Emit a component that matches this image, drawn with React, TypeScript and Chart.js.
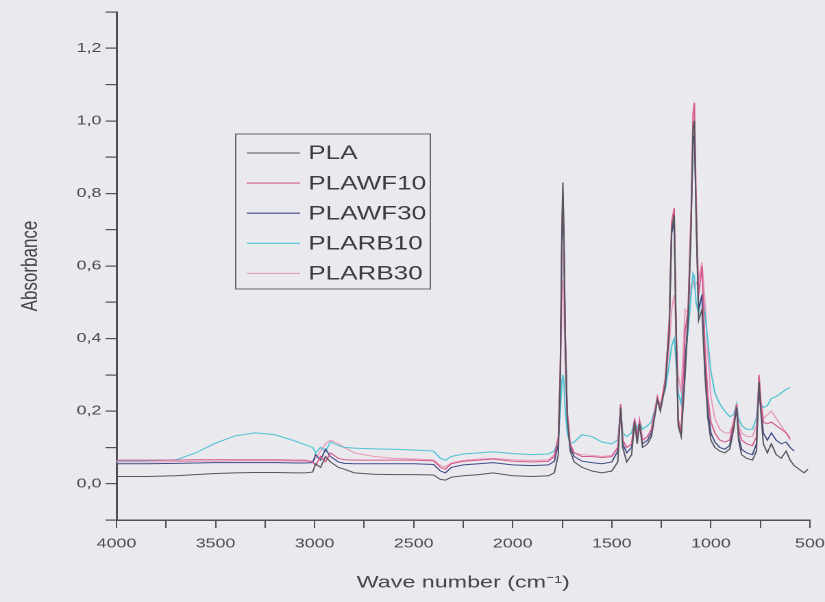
import React, { useEffect, useRef } from "react";
import { Chart, registerables } from "chart.js";

Chart.register(...registerables);

// Wave numbers (cm-1), shared by all series
const waveNumbers = [
  4000, 3850, 3700, 3600, 3500, 3400, 3300, 3200, 3100, 3050,
  3010, 2995, 2970, 2945, 2920, 2880, 2850, 2800, 2700, 2600,
  2500, 2400, 2365, 2340, 2310, 2250, 2170, 2100, 2000, 1900,
  1820, 1790, 1770, 1760, 1752, 1747, 1742, 1735, 1725, 1710,
  1690, 1650, 1600, 1550, 1500, 1470, 1455, 1445, 1425, 1400,
  1385, 1372, 1360, 1345, 1320, 1300, 1270, 1255, 1230, 1210,
  1198, 1185, 1175, 1165, 1150, 1130, 1115, 1100, 1090, 1083,
  1075, 1062, 1045, 1030, 1015, 1000, 980, 955, 930, 905,
  885, 870, 860, 845, 820, 790, 770, 757, 748, 735,
  715, 695, 670, 645, 620, 600, 580, 555, 530, 510,
];

const PLA = [
  0.020, 0.020, 0.022, 0.025, 0.028, 0.030, 0.031, 0.031, 0.030, 0.030,
  0.032, 0.055, 0.045, 0.075, 0.060, 0.045, 0.040, 0.030, 0.026, 0.025,
  0.025, 0.024, 0.012, 0.010, 0.018, 0.022, 0.025, 0.030, 0.022, 0.020,
  0.022, 0.030, 0.080, 0.300, 0.700, 0.830, 0.700, 0.400, 0.180, 0.090,
  0.060, 0.045, 0.035, 0.030, 0.035, 0.060, 0.210, 0.100, 0.060, 0.080,
  0.170, 0.110, 0.165, 0.100, 0.110, 0.130, 0.230, 0.200, 0.270, 0.420,
  0.700, 0.740, 0.400, 0.160, 0.130, 0.300, 0.450, 0.700, 0.980, 1.000,
  0.750, 0.450, 0.480, 0.300, 0.180, 0.120, 0.100, 0.090, 0.085, 0.095,
  0.150, 0.210, 0.120, 0.080, 0.070, 0.065, 0.090, 0.280, 0.200, 0.110,
  0.085, 0.110, 0.080, 0.070, 0.090, 0.065, 0.050, 0.040, 0.030, 0.040,
];

const PLAWF10 = [
  0.065, 0.065, 0.065, 0.066, 0.066, 0.066, 0.066, 0.066, 0.065, 0.065,
  0.060, 0.050, 0.075, 0.060, 0.085, 0.070, 0.066, 0.065, 0.065, 0.065,
  0.065, 0.063, 0.045, 0.040, 0.055, 0.062, 0.065, 0.068, 0.062, 0.060,
  0.062, 0.075, 0.130, 0.320, 0.680, 0.800, 0.690, 0.420, 0.200, 0.110,
  0.085, 0.075, 0.075, 0.072, 0.075, 0.100, 0.220, 0.120, 0.100, 0.110,
  0.180, 0.130, 0.175, 0.120, 0.130, 0.150, 0.240, 0.210, 0.290, 0.450,
  0.720, 0.760, 0.420, 0.180, 0.140, 0.420, 0.480, 0.750, 1.020, 1.050,
  0.800, 0.520, 0.600, 0.380, 0.240, 0.170, 0.140, 0.120, 0.115, 0.120,
  0.170, 0.220, 0.150, 0.120, 0.110, 0.105, 0.130, 0.300, 0.230, 0.170,
  0.165, 0.170, 0.160, 0.150, 0.140, 0.125, null, null, null, null,
];

const PLAWF30 = [
  0.055, 0.055, 0.056, 0.057, 0.058, 0.058, 0.058, 0.058, 0.057, 0.057,
  0.058, 0.080, 0.065, 0.095, 0.075, 0.060, 0.056, 0.055, 0.055, 0.055,
  0.055, 0.053, 0.035, 0.030, 0.045, 0.052, 0.055, 0.058, 0.052, 0.050,
  0.052, 0.062, 0.110, 0.300, 0.660, 0.780, 0.660, 0.400, 0.190, 0.100,
  0.075, 0.062, 0.058, 0.055, 0.060, 0.090, 0.215, 0.110, 0.085, 0.100,
  0.175, 0.120, 0.170, 0.110, 0.120, 0.140, 0.235, 0.205, 0.280, 0.440,
  0.690, 0.720, 0.400, 0.170, 0.135, 0.330, 0.460, 0.720, 0.940, 0.960,
  0.760, 0.480, 0.520, 0.330, 0.200, 0.140, 0.115, 0.100, 0.095, 0.105,
  0.160, 0.215, 0.130, 0.095, 0.085, 0.080, 0.110, 0.290, 0.210, 0.140,
  0.120, 0.140, 0.120, 0.110, 0.115, 0.100, 0.090, null, null, null,
];

const PLARB10 = [
  0.063, 0.063, 0.066, 0.085, 0.112, 0.132, 0.140, 0.135, 0.118, 0.108,
  0.100, 0.085, 0.100, 0.090, 0.115, 0.105, 0.100, 0.098, 0.096, 0.095,
  0.093, 0.090, 0.070, 0.065, 0.075, 0.082, 0.085, 0.088, 0.083, 0.080,
  0.082, 0.090, 0.120, 0.200, 0.280, 0.300, 0.280, 0.200, 0.140, 0.110,
  0.115, 0.135, 0.130, 0.115, 0.110, 0.120, 0.200, 0.140, 0.130, 0.140,
  0.175, 0.150, 0.170, 0.150, 0.160, 0.170, 0.230, 0.220, 0.260, 0.330,
  0.380, 0.400, 0.330, 0.250, 0.220, 0.350, 0.420, 0.520, 0.580, 0.570,
  0.500, 0.470, 0.520, 0.470, 0.390, 0.310, 0.250, 0.220, 0.200, 0.185,
  0.190, 0.220, 0.180, 0.160, 0.150, 0.150, 0.180, 0.270, 0.220, 0.210,
  0.215, 0.235, 0.240, 0.250, 0.260, 0.265, null, null, null, null,
];

const PLARB30 = [
  0.060, 0.060, 0.061, 0.062, 0.062, 0.063, 0.063, 0.063, 0.062, 0.062,
  0.062, 0.070, 0.090, 0.110, 0.120, 0.110, 0.100, 0.085, 0.075, 0.070,
  0.068, 0.066, 0.050, 0.046, 0.058, 0.064, 0.068, 0.070, 0.066, 0.064,
  0.066, 0.080, 0.120, 0.260, 0.500, 0.560, 0.500, 0.320, 0.170, 0.100,
  0.085, 0.080, 0.078, 0.075, 0.078, 0.100, 0.200, 0.120, 0.100, 0.110,
  0.165, 0.130, 0.160, 0.120, 0.130, 0.150, 0.230, 0.210, 0.270, 0.380,
  0.480, 0.520, 0.420, 0.300, 0.250, 0.480, 0.470, 0.550, 0.560, 0.540,
  0.550, 0.560, 0.610, 0.500, 0.360, 0.240, 0.180, 0.150, 0.140, 0.140,
  0.170, 0.200, 0.160, 0.140, 0.130, 0.130, 0.160, 0.250, 0.210, 0.180,
  0.190, 0.200, 0.180, 0.160, 0.140, 0.120, null, null, null, null,
];

const seriesNames = ["PLA", "PLAWF10", "PLAWF30", "PLARB10", "PLARB30"];
const seriesValues = [PLA, PLAWF10, PLAWF30, PLARB10, PLARB30];
const seriesColors = ["#55555f", "#d65a8c", "#3f4b86", "#4cc3d3", "#e79ab9"];

const FONT = "'Liberation Sans', Arial, sans-serif";
const AXIS = "#4f4f55";
const BG = "#e9e9ee";
const INNER_W = 602;
const INNER_H = 602;
const STRETCH = 825 / INNER_W;

const bgPlugin = {
  id: "bgFill",
  beforeDraw(chart: any) {
    const { ctx, width, height } = chart;
    ctx.save();
    ctx.fillStyle = BG;
    ctx.fillRect(0, 0, width, height);
    ctx.restore();
  },
};

const boxLegendPlugin = {
  id: "boxLegend",
  afterDatasetsDraw(chart: any) {
    const { ctx } = chart;
    const left = 172, top = 134, w = 142, h = 155;
    const rowStart = 153, rowGap = 30.1;
    ctx.save();
    ctx.fillStyle = BG;
    ctx.fillRect(left, top, w, h);
    ctx.strokeStyle = "#66666c";
    ctx.lineWidth = 1;
    ctx.strokeRect(left, top, w, h);
    ctx.font = `19px ${FONT}`;
    ctx.textBaseline = "middle";
    ctx.textAlign = "left";
    chart.data.datasets.forEach((ds: any, i: number) => {
      const y = rowStart + i * rowGap;
      ctx.strokeStyle = ds.borderColor;
      ctx.lineWidth = 1.1;
      ctx.beginPath();
      ctx.moveTo(180, y);
      ctx.lineTo(219, y);
      ctx.stroke();
      ctx.fillStyle = "#3c3c40";
      ctx.fillText(ds.label, 225, y + 1);
    });
    ctx.restore();
  },
};

export default function App() {
  const canvasRef = useRef<HTMLCanvasElement | null>(null);

  useEffect(() => {
    const canvas = canvasRef.current;
    if (!canvas) return;
    const datasets = seriesNames.map((name, k) => ({
      label: name,
      data: waveNumbers.map((x, i) => ({ x, y: seriesValues[k][i] })),
      borderColor: seriesColors[k],
      backgroundColor: seriesColors[k],
      borderWidth: 1,
      pointRadius: 0,
      tension: 0,
      fill: false,
      spanGaps: false,
    }));
    const chart = new Chart(canvas, {
      type: "line",
      data: { datasets },
      options: {
        animation: false,
        responsive: false,
        devicePixelRatio: 2,
        layout: { padding: { left: 0, right: 11, top: 12, bottom: 0 } },
        plugins: { legend: { display: false }, tooltip: { enabled: false } },
        scales: {
          x: {
            type: "linear",
            reverse: true,
            min: 500,
            max: 4000,
            afterFit: (s: any) => {
              s.height = 82;
              s.paddingLeft = 0;
              s.paddingRight = 0;
            },
            border: { display: true, color: AXIS, width: 1.5 },
            grid: { drawOnChartArea: false, drawTicks: true, tickLength: 8, color: AXIS, lineWidth: 1 },
            ticks: {
              stepSize: 250,
              autoSkip: false,
              maxRotation: 0,
              padding: 8,
              color: "#4a4a4e",
              font: { family: FONT, size: 13 },
              callback: (v: any) => (Number(v) % 500 === 0 ? String(v) : ""),
            },
            title: {
              display: true,
              text: "Wave number (cm⁻¹)",
              color: "#444448",
              font: { family: FONT, size: 17 },
              padding: { top: 0, bottom: 9 },
            },
          },
          y: {
            type: "linear",
            min: -0.1,
            max: 1.3,
            afterFit: (s: any) => {
              s.width = 85;
            },
            border: { display: true, color: AXIS, width: 1.5 },
            grid: { drawOnChartArea: false, drawTicks: true, tickLength: 8, color: AXIS, lineWidth: 1.2 },
            ticks: {
              stepSize: 0.1,
              autoSkip: false,
              padding: 3,
              color: "#4a4a4e",
              font: { family: FONT, size: 13 },
              callback: (v: any) => {
                const k = Math.round(Number(v) * 10);
                return k >= 0 && k % 2 === 0 ? (k / 10).toFixed(1).replace(".", ",") : "";
              },
            },
            title: {
              display: true,
              text: "Absorbance",
              color: "#444448",
              font: { family: FONT, size: 17 },
              padding: { top: 12, bottom: 0 },
            },
          },
        },
      },
      plugins: [bgPlugin, boxLegendPlugin],
    } as any);
    return () => chart.destroy();
  }, []);

  return (
    <div
      style={{
        position: "fixed",
        left: 0,
        top: 0,
        width: 825,
        height: 602,
        overflow: "hidden",
        background: BG,
      }}
    >
      <div
        style={{
          width: INNER_W,
          height: INNER_H,
          transform: `scaleX(${STRETCH})`,
          transformOrigin: "0 0",
        }}
      >
        <canvas
          ref={canvasRef}
          width={INNER_W}
          height={INNER_H}
          style={{ display: "block", width: INNER_W, height: INNER_H }}
        />
      </div>
    </div>
  );
}
